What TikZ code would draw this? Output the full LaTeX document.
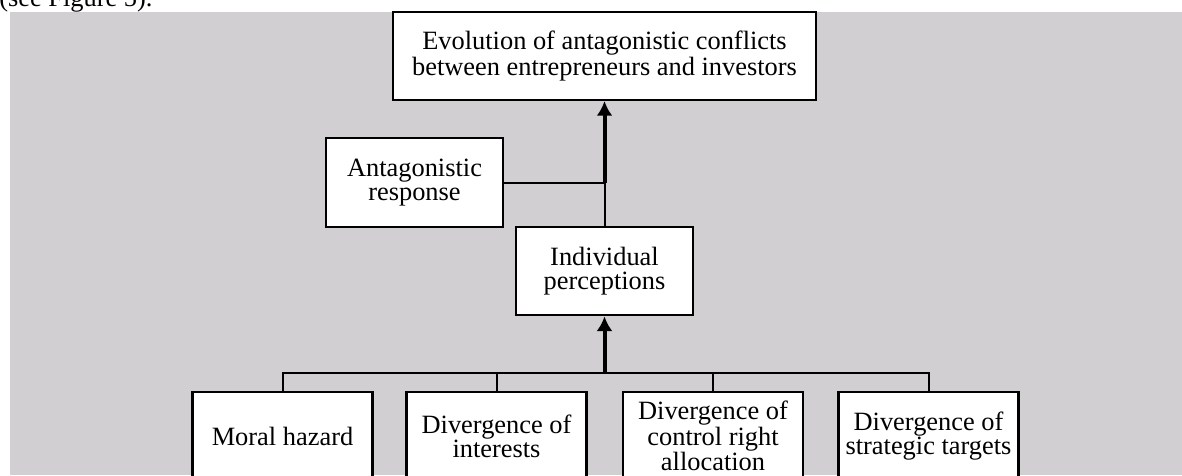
\documentclass[tikz,border=0pt]{standalone}
\usepackage{fontspec}
\setmainfont{Liberation Serif}
\usetikzlibrary{arrows.meta}
\definecolor{mygray}{RGB}{209,207,209}
\tikzset{
  >=latex,
  block/.style={draw=black,fill=white,line width=1.6pt,inner sep=0,align=center,
    font=\fontsize{19.8}{18}\selectfont},
  block top/.style={block,minimum width=317pt,minimum height=66pt},
  block mid/.style={block,minimum width=133pt,minimum height=66.5pt},
  block low/.style={block,minimum width=135pt,minimum height=66pt},
  connect/.style={line width=1.5pt,black},
  connect arrow/.style={-{Latex[length=11pt,width=12pt]},line width=3pt,black}
}

\begin{document}
\begin{tikzpicture}[x=0.75pt,y=-0.75pt]
\useasboundingbox (0,0) rectangle (1182,475);
\clip (0,0) rectangle (1182,475);
\fill[mygray] (10,12) rectangle (1182,475);
% text of the page, cut by the top edge
\node[anchor=base west,inner sep=0,font=\fontsize{19.8}{18}\selectfont] (cap) at (-1,6) {(see Figure 5).};
\path
(604.5,56)  node[block top] (evol) {Evolution of antagonistic conflicts\\between entrepreneurs and investors}
(414.5,182.5) node[block mid] (antag) {Antagonistic\\response}
(604.5,271) node[block mid] (indiv) {Individual\\perceptions}
(282.5,436) node[block low] (moral) {Moral hazard}
(496.5,436) node[block low] (inter) {Divergence of\\interests}
(713,436)   node[block low] (ctrl) {Divergence of\\control right\\allocation}
(928.5,436) node[block low] (strat) {Divergence of\\strategic targets};
\coordinate (j) at (604.5,182.5);
\coordinate (bus) at (604.5,373);
\draw[connect] (antag.east) -- (j);
\draw[connect] (indiv.north) -- (j);
\draw[connect arrow] (j) -- (evol.south);
\draw[connect] (moral.north) |- (bus) -| (strat.north);
\draw[connect] (inter.north) -- (inter.north |- bus);
\draw[connect] (ctrl.north) -- (ctrl.north |- bus);
\draw[connect arrow] (bus) -- (indiv.south);
\end{tikzpicture}
\end{document}
